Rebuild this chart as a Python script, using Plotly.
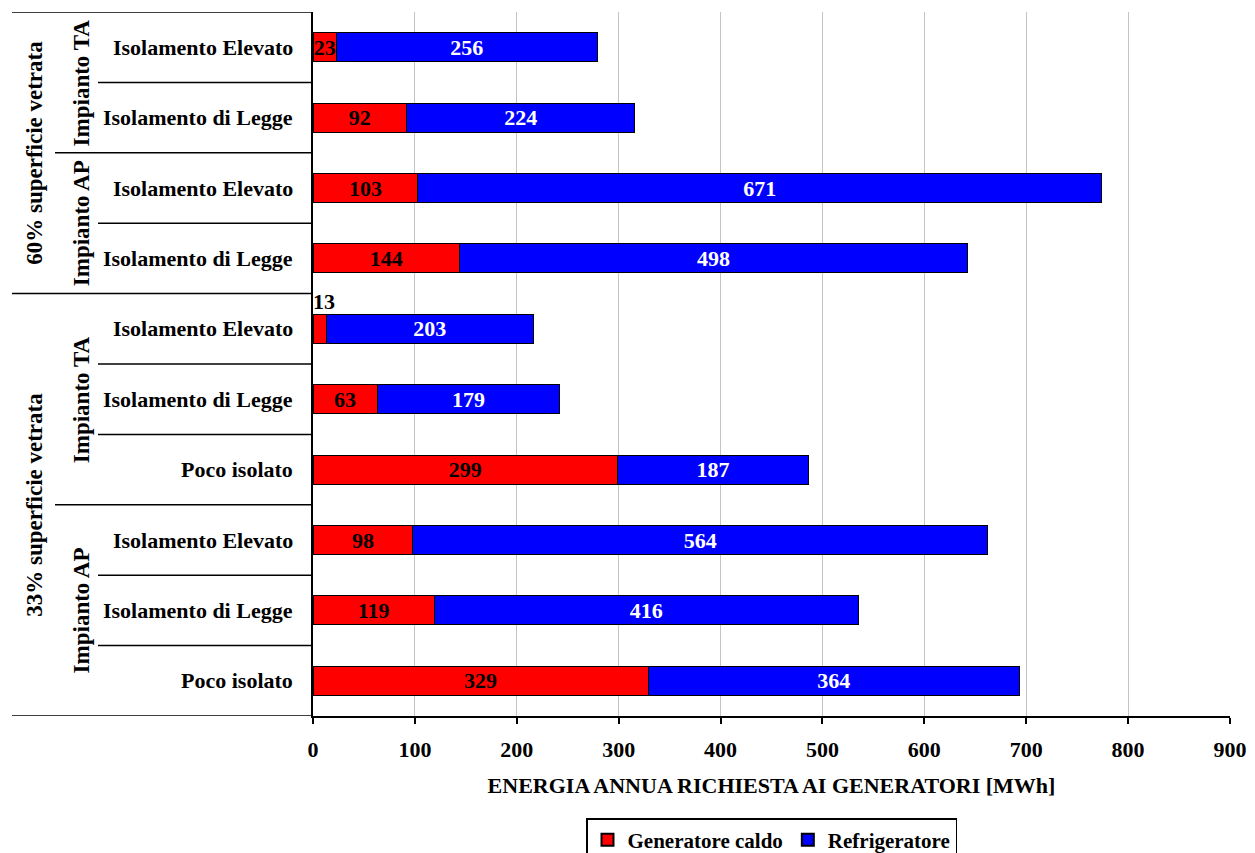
import plotly.graph_objects as go

# Data (top to bottom)
group1 = ["60% superficie vetrata"] * 4 + ["33% superficie vetrata"] * 6
group2 = ["Impianto TA"] * 2 + ["Impianto AP"] * 2 + ["Impianto TA"] * 3 + ["Impianto AP"] * 3
categories = ["Isolamento Elevato", "Isolamento di Legge", "Isolamento Elevato", "Isolamento di Legge",
              "Isolamento Elevato", "Isolamento di Legge", "Poco isolato",
              "Isolamento Elevato", "Isolamento di Legge", "Poco isolato"]
caldo = [23, 92, 103, 144, 13, 63, 299, 98, 119, 329]
refrig = [256, 224, 671, 498, 203, 179, 187, 564, 416, 364]
x_ticks = [0, 100, 200, 300, 400, 500, 600, 700, 800, 900]

FONT = "Liberation Serif"
n = len(categories)
ypos = list(range(n))

# plot area geometry (pixels)
W, H = 1255, 853
L, R, T, B = 313, 25, 12, 137
pw = W - L - R
ph = H - T - B

def px_to_paper_x(px):
    return (px - L) / pw

def px_to_paper_y(py):
    return 1 - (py - T) / ph

LBL = 22
small = 15
caldo_text = [str(v) if v >= small else "" for v in caldo]

fig = go.Figure()
fig.add_trace(go.Bar(
    y=ypos, x=caldo, orientation="h", name="Generatore caldo",
    marker=dict(color="#FF0000", line=dict(color="black", width=1)),
    text=caldo_text, textposition="inside", insidetextanchor="middle",
    constraintext="none", textangle=0,
    textfont=dict(family=FONT, size=LBL, color="black", weight="bold"),
))
fig.add_trace(go.Bar(
    y=ypos, x=refrig, orientation="h", name="Refrigeratore",
    marker=dict(color="#0000FF", line=dict(color="black", width=1)),
    text=[str(v) for v in refrig], textposition="inside", insidetextanchor="middle",
    constraintext="none", textangle=0,
    textfont=dict(family=FONT, size=LBL, color="white", weight="bold"),
))

annotations = []
shapes = []

# small values shown above the bar
for i, v in enumerate(caldo):
    if v < small:
        annotations.append(dict(x=0, y=ypos[i], xref="x", yref="y", text="<b>%d</b>" % v,
                                showarrow=False, xanchor="left", yanchor="bottom", yshift=13, xshift=-2,
                                font=dict(family=FONT, size=LBL, color="black")))

# level-3 labels
for i, c in enumerate(categories):
    annotations.append(dict(x=px_to_paper_x(295), y=ypos[i], xref="paper", yref="y",
                            text="<b>%s</b>" % c, showarrow=False, xanchor="right", yanchor="middle",
                            font=dict(family=FONT, size=LBL, color="black")))

def spans(groups, keyfun):
    res = []
    start = 0
    for i in range(1, len(groups) + 1):
        if i == len(groups) or keyfun(i) != keyfun(start):
            res.append((start, i - 1, groups[start]))
            start = i
    return res

g2_spans = spans(group2, lambda i: (group1[i], group2[i]))
g1_spans = spans(group1, lambda i: group1[i])

for s, e, name in g2_spans:
    annotations.append(dict(x=px_to_paper_x(81), y=(s + e) / 2, xref="paper", yref="y",
                            text="<b>%s</b>" % name, showarrow=False, textangle=-90,
                            xanchor="center", yanchor="middle",
                            font=dict(family=FONT, size=23, color="black")))
for s, e, name in g1_spans:
    annotations.append(dict(x=px_to_paper_x(35), y=(s + e) / 2, xref="paper", yref="y",
                            text="<b>%s</b>" % name, showarrow=False, textangle=-90,
                            xanchor="center", yanchor="middle",
                            font=dict(family=FONT, size=23, color="black")))

# separator lines
g1_bounds = set([s - 0.5 for s, e, _ in g1_spans] + [e + 0.5 for s, e, _ in g1_spans])
g2_bounds = set([s - 0.5 for s, e, _ in g2_spans])
for k in range(n + 1):
    b = k - 0.5
    if b in g1_bounds:
        x0 = 12
    elif b in g2_bounds:
        x0 = 55
    else:
        x0 = 98
    shapes.append(dict(type="line", xref="paper", yref="y", x0=px_to_paper_x(x0), x1=0,
                       y0=b, y1=b, line=dict(color="black", width=1.5)))

fig.update_layout(
    width=W, height=H,
    barmode="stack", bargap=0.59,
    margin=dict(l=L, r=R, t=T, b=B, autoexpand=False),
    plot_bgcolor="white", paper_bgcolor="white",
    font=dict(family=FONT, color="black"),
    annotations=annotations, shapes=shapes,
    xaxis=dict(range=[0, 900], tickvals=x_ticks, ticktext=["<b>%d</b>" % v for v in x_ticks],
               showgrid=True, gridcolor="#c4c4c4", gridwidth=1, zeroline=False,
               showline=True, linecolor="black", linewidth=1.5,
               ticks="outside", ticklen=6, tickcolor="black", tickwidth=1.5,
               ticklabelstandoff=7, automargin=False,
               tickfont=dict(family=FONT, size=LBL, color="black"),
               title=dict(text="<b>ENERGIA ANNUA RICHIESTA AI GENERATORI [MWh]</b>",
                          font=dict(family=FONT, size=22, color="black"), standoff=16)),
    yaxis=dict(range=[n - 0.5, -0.5], showticklabels=False, showgrid=False, zeroline=False,
               showline=True, linecolor="black", linewidth=1.5, ticks="", automargin=False),
    legend=dict(orientation="h", x=0.5, xanchor="center", y=px_to_paper_y(818), yanchor="top",
                bordercolor="black", borderwidth=1.5, traceorder="normal",
                font=dict(family=FONT, size=21, color="black", weight="bold"),
                itemsizing="constant", itemwidth=30, tracegroupgap=0),
    showlegend=True,
)

fig.write_html("out.html")
